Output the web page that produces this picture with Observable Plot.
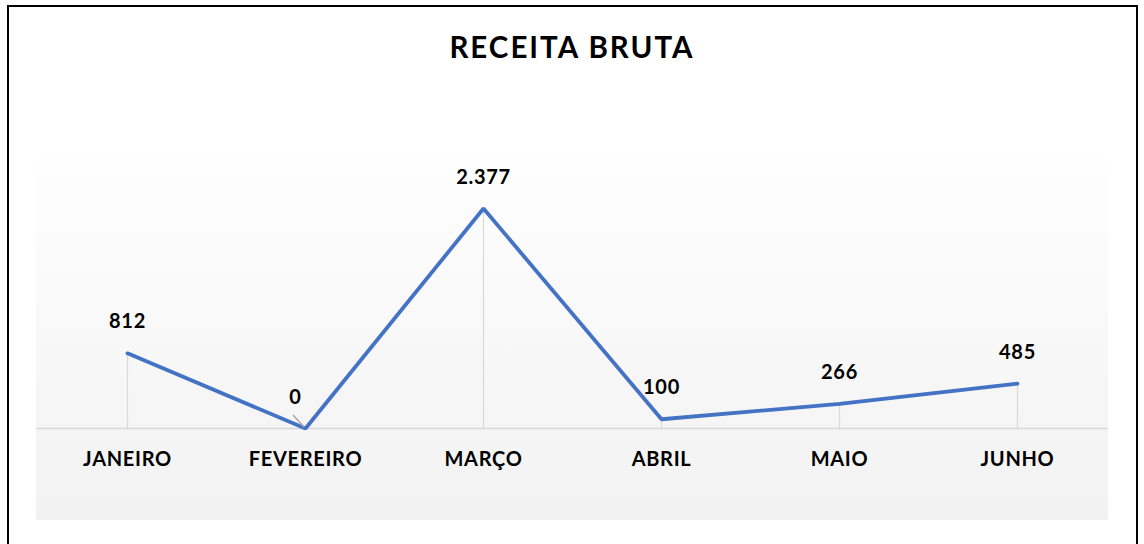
<!DOCTYPE html>
<html>
<head>
<meta charset="utf-8">
<script src="https://cdn.jsdelivr.net/npm/d3@7"></script>
<script src="https://cdn.jsdelivr.net/npm/@observablehq/plot@0.6"></script>
<style>
  html, body { margin: 0; padding: 0; background: #fff; width: 1144px; height: 544px; overflow: hidden; }
  #border { position: absolute; left: 7px; top: 5px; width: 1127px; height: 600px; border: 2px solid #000; box-sizing: content-box; }
  #title { position: absolute; left: 0; width: 1144px; top: 29px; text-align: center; font-family: Lato, "Open Sans", sans-serif; font-weight: bold; font-size: 29.5px; letter-spacing: 2px; color: #000; line-height: 36px; }
  #bg { position: absolute; left: 36px; top: 158px; width: 1072px; height: 362px; background: linear-gradient(to bottom, #fefefe 0%, #f2f2f2 100%); }
  #chart { position: absolute; left: 0; top: 0; }
  #chart svg text { letter-spacing: 0.7px; }
</style>
</head>
<body>
<div id="border"></div>
<div id="title">RECEITA BRUTA</div>
<div id="bg"></div>
<div id="chart"></div>
<script>
const months = ["JANEIRO", "FEVEREIRO", "MARÇO", "ABRIL", "MAIO", "JUNHO"];
const values = [812, 0, 2377, 100, 266, 485];

const data = months.map((m, i) => ({month: m, value: values[i]}));
const fmt = v => d3.format(",")(v).replace(/,/g, ".");

const chart = Plot.plot({
  width: 1144,
  height: 544,
  marginLeft: 36,
  marginRight: 36,
  marginTop: 158,
  marginBottom: 116,
  style: {background: "transparent", fontFamily: "Lato, 'Open Sans', sans-serif", fontWeight: "bold", fontSize: "20px", color: "#000"},
  x: {type: "point", domain: months, padding: 0.5, label: null},
  y: {domain: [0, 2377], range: [428, 208], axis: null},
  marks: [
    Plot.ruleX(data, {x: "month", y1: 0, y2: "value", stroke: "#d9d9d9", strokeWidth: 1.2}),
    Plot.ruleY([0], {stroke: "#d9d9d9", strokeWidth: 1.5}),
    Plot.axisX({tickSize: 0, tickPadding: 23, fontSize: 20, fontWeight: "bold", fill: "#000", label: null}),
    Plot.line(data, {x: "month", y: "value", stroke: "#4472C4", strokeWidth: 3.8, strokeLinejoin: "miter", strokeLinecap: "round"}),
    // leader line for the shifted zero label
    (index, scales) => {
      const svg = d3.create("svg:g");
      const d = data[1];
      const px = scales.x(d.month), py = scales.y(d.value);
      svg.append("line")
        .attr("x1", px - 12).attr("y1", py - 13)
        .attr("x2", px - 1).attr("y2", py - 1)
        .attr("stroke", "#a6a6a6").attr("stroke-width", 1.5);
      return svg.node();
    },
    Plot.text(data.filter(d => d.month !== "FEVEREIRO"), {x: "month", y: "value", text: d => fmt(d.value), dy: -25, lineAnchor: "bottom", fontSize: 20, fontWeight: "bold", fill: "#000"}),
    Plot.text(data.filter(d => d.month === "FEVEREIRO"), {x: "month", y: "value", text: d => fmt(d.value), dy: -25, dx: -10, lineAnchor: "bottom", fontSize: 20, fontWeight: "bold", fill: "#000"})
  ]
});
document.getElementById("chart").appendChild(chart);
</script>
</body>
</html>
